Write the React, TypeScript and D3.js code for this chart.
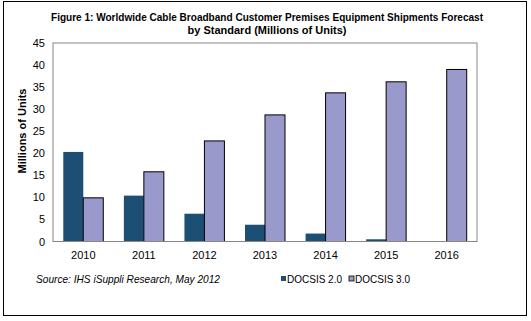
import React from "react";
import * as d3 from "d3";

const years = ["2010", "2011", "2012", "2013", "2014", "2015", "2016"];
const docsis20 = [20.3, 10.4, 6.3, 3.8, 1.8, 0.5, 0];
const docsis30 = [9.9, 15.8, 22.8, 28.7, 33.7, 36.2, 39.0];
const yTicks = [0, 5, 10, 15, 20, 25, 30, 35, 40, 45];
const seriesNames = ["DOCSIS 2.0", "DOCSIS 3.0"];
const seriesColors = ["#1c4f73", "#9999cc"];

export default function App() {
  const W = 531, H = 321;
  const left = 53, right = 477, top = 43, bottom = 241.5;
  const x = d3.scaleBand().domain(years).range([left, right]).paddingInner(0.34).paddingOuter(0.17);
  const y = d3.scaleLinear().domain([0, 45]).range([bottom, top]);
  const bw = x.bandwidth() / 2;
  const font = "'Liberation Sans', Arial, sans-serif";
  const legendX = [281, 349];
  return (
    <svg width={W} height={H} style={{ position: "absolute", left: 0, top: 0 }} fontFamily={font}>
      <rect x={0} y={0} width={W} height={H} fill="#fff" />
      <rect x={3.5} y={1.5} width={523} height={314} fill="none" stroke="#000" strokeWidth={1} />
      <text x={267} y={21} textAnchor="middle" fontSize={11} fontWeight="bold" textLength={432} lengthAdjust="spacingAndGlyphs">
        Figure 1: Worldwide Cable Broadband Customer Premises Equipment Shipments Forecast
      </text>
      <text x={267} y={34} textAnchor="middle" fontSize={11} fontWeight="bold">
        by Standard (Millions of Units)
      </text>
      <rect x={left} y={top} width={right - left} height={bottom - top} fill="none" stroke="#868686" strokeWidth={1} />
      {yTicks.map((t) => (
        <text key={t} x={45} y={y(t) + 4} textAnchor="end" fontSize={11}>
          {t}
        </text>
      ))}
      <text transform={`translate(26,131) rotate(-90)`} textAnchor="middle" fontSize={11} fontWeight="bold">
        Millions of Units
      </text>
      {years.map((yr, i) => (
        <g key={yr}>
          {docsis20[i] > 0 && (
            <rect x={x(yr)!} y={y(docsis20[i])} width={bw} height={y(0) - y(docsis20[i])} fill={seriesColors[0]} />
          )}
          <rect x={x(yr)! + bw} y={y(docsis30[i])} width={bw} height={y(0) - y(docsis30[i])} fill={seriesColors[1]} stroke="#000" strokeWidth={1} />
          <text x={x(yr)! + bw} y={259} textAnchor="middle" fontSize={11}>
            {yr}
          </text>
        </g>
      ))}
      <line x1={left} x2={right} y1={bottom} y2={bottom} stroke="#868686" />
      <text x={36} y={283} fontSize={11} fontStyle="italic" textLength={184} lengthAdjust="spacingAndGlyphs">
        Source: IHS iSuppli Research, May 2012
      </text>
      {seriesNames.map((s, i) => (
        <g key={s}>
          <rect x={legendX[i]} y={276} width={5} height={5} fill={seriesColors[i]} stroke={i === 1 ? "#000" : "none"} strokeWidth={0.8} />
          <text x={legendX[i] + 6} y={283} fontSize={11} textLength={55} lengthAdjust="spacingAndGlyphs">
            {s}
          </text>
        </g>
      ))}
    </svg>
  );
}
